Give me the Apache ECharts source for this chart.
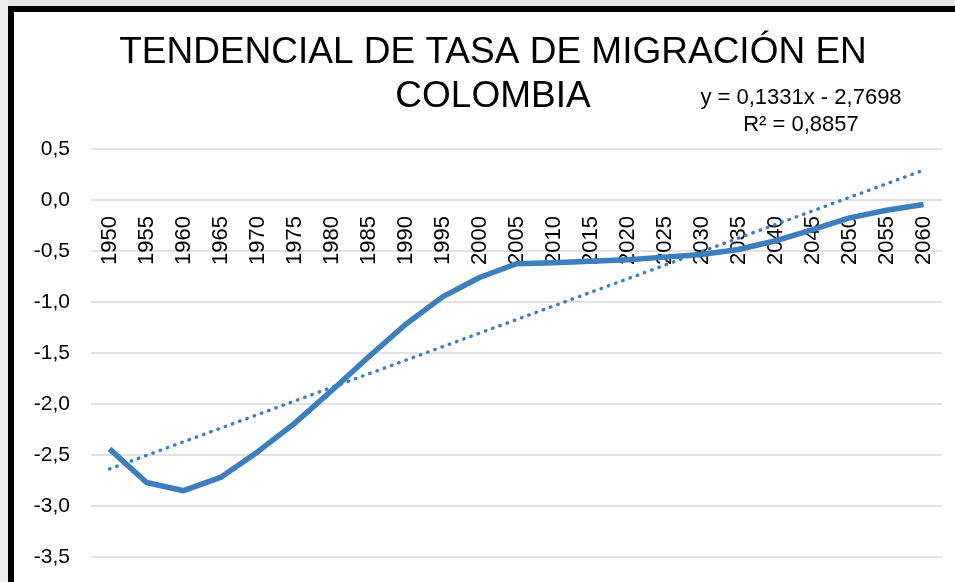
<!DOCTYPE html>
<html>
    <head>
        <meta charset="utf-8">
        <title>Tendencial de tasa de migración en Colombia</title>
        <script src="https://cdn.jsdelivr.net/npm/echarts@6/dist/echarts.min.js"></script>
        <style>
            html,body{margin:0;padding:0;background:#fff;}
            #chart1{width:955px;height:582px;}
        </style>
    </head>
    <body>
        <div id="chart1"></div>
        <script>
            // años (eje de categorías)
            var years = ['1950','1955','1960','1965','1970','1975','1980','1985','1990','1995','2000','2005',
                         '2010','2015','2020','2025','2030','2035','2040','2045','2050','2055','2060'];
            // tasa de migración
            var tasa = [-2.44,-2.77,-2.85,-2.72,-2.47,-2.19,-1.87,-1.54,-1.22,-0.95,-0.76,-0.625,
                        -0.615,-0.60,-0.586,-0.56,-0.534,-0.485,-0.40,-0.29,-0.175,-0.10,-0.045];
            // extremos de la línea de tendencia (1950 y 2060)
            var tendYears = ['1950','2060'];
            var tendValues = [-2.637, 0.292];
            var ecuacion = ['y = 0,1331x - 2,7698','R² = 0,8857'];
            var titulo = 'TENDENCIAL DE TASA DE MIGRACIÓN EN\nCOLOMBIA';

            var fuente = '"Liberation Sans", Arial, sans-serif';
            var azul = '#3d7ebd';

            var tendencia = [];
            for (var i = 0; i < tendYears.length; i++) {
                tendencia.push([tendYears[i], tendValues[i]]);
            }

            var gridTop = 149, gridBottom = 25, alto = 582;
            var yMin = -3.5, yMax = 0.5;
            // las etiquetas del eje X van sobre la línea del 0 (como en Excel)
            var altoGrid = alto - gridTop - gridBottom;
            var desplazX = -altoGrid * (0 - yMin) / (yMax - yMin);

            var myChart1 = echarts.init(document.getElementById('chart1'));
            myChart1.setOption({
                backgroundColor: '#fff',
                animation: false,
                textStyle: {fontFamily: fuente},
                graphic: [
                    // marco gris y negro del recorte
                    {type:'rect', shape:{x:0,y:0,width:955,height:6}, style:{fill:'#e6e6e6'}, silent:true},
                    {type:'rect', shape:{x:0,y:0,width:8,height:582}, style:{fill:'#eeeeee'}, silent:true},
                    {type:'rect', shape:{x:8,y:6,width:947,height:6}, style:{fill:'#000'}, silent:true},
                    {type:'rect', shape:{x:8,y:6,width:6,height:576}, style:{fill:'#000'}, silent:true},
                    {
                        type:'text', x:493, y:31,
                        style:{text:titulo, fill:'#000', font:'37px ' + fuente,
                               textAlign:'center', textVerticalAlign:'top', lineHeight:44}
                    },
                    {
                        type:'text', x:801, y:84,
                        style:{text:ecuacion.join('\n'), fill:'#000', font:'22px ' + fuente,
                               textAlign:'center', textVerticalAlign:'top', lineHeight:27}
                    }
                ],
                grid: {left:91, right:13, top:gridTop, bottom:gridBottom, containLabel:false, outerBoundsMode:'none'},
                xAxis: {
                    type:'category',
                    data: years,
                    boundaryGap:true,
                    offset: desplazX,
                    axisLine:{show:false, onZero:false},
                    axisTick:{show:false},
                    axisLabel:{interval:0, rotate:90, margin:16, color:'#000', fontSize:22, fontFamily:fuente},
                    splitLine:{show:false}
                },
                yAxis: {
                    type:'value',
                    min:yMin, max:yMax, interval:0.5,
                    axisLine:{show:false},
                    axisTick:{show:false},
                    axisLabel:{
                        margin:21, color:'#000', fontSize:21, fontFamily:fuente,
                        formatter:function(v){ return v.toFixed(1).replace('.', ','); }
                    },
                    splitLine:{lineStyle:{color:'#d9d9d9', width:1.5}}
                },
                series: [
                    {
                        name:'Tasa de migración',
                        type:'line',
                        data: tasa,
                        symbol:'none',
                        lineStyle:{color:azul, width:5.5, join:'round'},
                        z:3
                    },
                    {
                        name:'Lineal (Tasa de migración)',
                        type:'line',
                        data: tendencia,
                        symbol:'none',
                        lineStyle:{color:azul, width:3.4, type:[0.5, 7.2], cap:'round'},
                        z:2
                    }
                ]
            });
        </script>
    </body>
</html>
